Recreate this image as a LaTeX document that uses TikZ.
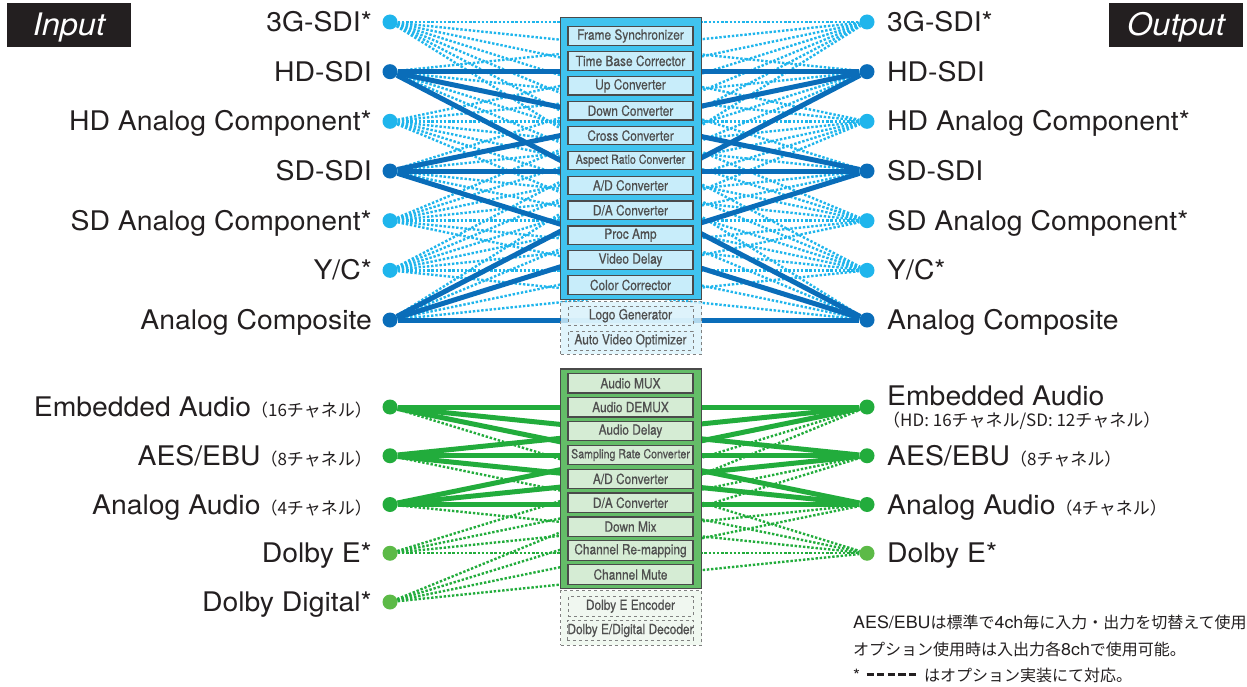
\documentclass[tikz,border=0pt]{standalone}
\usepackage{fontspec}
\setmainfont[FakeStretch=1.05]{TeX Gyre Heros}
\newfontfamily\jpfont{Noto Sans CJK JP}
\newfontfamily\cellfont[FakeStretch=0.85, FakeBold=0.6]{TeX Gyre Heros}
\usetikzlibrary{positioning}

\definecolor{ink}{HTML}{231F20}
\definecolor{vidopt}{HTML}{1FB5EC}
\definecolor{vidstd}{HTML}{0A6DB9}
\definecolor{vidbox}{HTML}{40C3EF}
\definecolor{vidcell}{HTML}{C8EDFA}
\definecolor{audstd}{HTML}{22AC3C}
\definecolor{audopt}{HTML}{5CBA47}
\definecolor{audbox}{HTML}{64BD68}
\definecolor{audcell}{HTML}{D5ECD4}
\definecolor{celltext}{HTML}{4F4F4F}
\definecolor{cellline}{HTML}{4A4A4A}

\newcommand{\chans}[1]{{\jpfont\fontsize{17}{20}\selectfont （#1チャネル）}}
\newcommand{\lat}[1]{{\rmfamily\fontsize{17}{17}\selectfont #1}}
\newcommand{\optdash}{\rule[0.3em]{0.46em}{0.2em}\hspace{0.2em}}

\pgfdeclarelayer{links}
\pgfsetlayers{links,main}

\begin{document}
\begin{tikzpicture}[x=1pt, y=-1pt,
    port/.style={circle, fill=#1, inner sep=0pt, minimum size=15pt},
    portname/.style={inner sep=0pt, text=ink, font=\fontsize{27}{30}\selectfont},
    inname/.style={portname, anchor=base east},
    outname/.style={portname, anchor=base west},
    stdlink/.style={line width=5pt, draw=#1},
    optlink/.style={line width=2.4pt, dash pattern=on 2.4pt off 1.8pt, draw=#1},
    heading/.style={fill=ink, text=white, inner sep=0pt, minimum height=44pt,
      text height=22pt, text depth=0pt, font=\itshape\fontsize{31}{31}\selectfont},
    procbox/.style={draw=cellline, line width=1.2pt, minimum width=141pt},
    optbox/.style={draw=gray, dashed, line width=0.8pt, minimum width=141pt, fill opacity=0.8, text opacity=1},
    cell/.style={draw=cellline, line width=1.2pt, minimum width=125pt, inner sep=0pt,
      text=celltext, font=\cellfont\fontsize{14}{15}\selectfont},
    optcell/.style={cell, draw=gray, dashed, line width=0.8pt, fill opacity=0.8, text opacity=1},
    note/.style={anchor=base west, inner sep=0pt, text=ink, font=\jpfont\fontsize{16}{18}\selectfont}]
\useasboundingbox (0,0) rectangle (1247,687);

% headings
\node[heading, minimum width=124pt] (inhead) at (69,25) {Input};
\node[heading, minimum width=134pt] (outhead) at (1176,25) {Output};

% video ports
\foreach \i/\kind/\txt in {1/vidopt/{3G-SDI*}, 2/vidstd/{HD-SDI}, 3/vidopt/{HD Analog Component*},
    4/vidstd/{SD-SDI}, 5/vidopt/{SD Analog Component*}, 6/vidopt/{Y/C*}, 7/vidstd/{Analog Composite}} {
  \node[port=\kind] (vin\i) at (390,{22+(\i-1)*49.67}) {};
  \node[inname] (vinname\i) at ([xshift=-18pt,yshift=-9.5pt]vin\i.center) {\txt};
  \node[port=\kind] (vout\i) at (867,{22+(\i-1)*49.67}) {};
  \node[outname] (voutname\i) at ([xshift=20pt,yshift=-9.5pt]vout\i.center) {\txt};
}

% audio ports
\foreach \i/\kind/\txt in {1/audstd/{Embedded Audio\chans{16}}, 2/audstd/{AES/EBU\chans{8}},
    3/audstd/{Analog Audio\chans{4}}, 4/audopt/{Dolby E*}, 5/audopt/{Dolby Digital*}} {
  \node[port=\kind] (ain\i) at (390,{407+(\i-1)*48.75}) {};
  \node[inname] (ainname\i) at ([xshift=-18pt,yshift=-9.5pt]ain\i.center) {\txt};
}
\foreach \i/\kind in {1/audstd, 2/audstd, 3/audstd, 4/audopt}
  \node[port=\kind] (aout\i) at (867,{407+(\i-1)*48.75}) {};
\node[outname] (aoutname1) at ([xshift=20pt,yshift=1.3pt]aout1.center) {Embedded Audio};
\node[anchor=base west, inner sep=0pt, text=ink, font=\jpfont\fontsize{17}{20}\selectfont]
  (aoutsub1) at ([xshift=16pt,yshift=-19.3pt]aout1.center) {（HD: 16チャネル/SD: 12チャネル）};
\node[outname] (aoutname2) at ([xshift=20pt,yshift=-9.5pt]aout2.center) {AES/EBU\chans{8}};
\node[outname] (aoutname3) at ([xshift=20pt,yshift=-9.5pt]aout3.center) {Analog Audio\chans{4}};
\node[outname] (aoutname4) at ([xshift=20pt,yshift=-9.5pt]aout4.center) {Dolby E*};

% links
\begin{pgfonlayer}{links}
\foreach \i in {1,3,5,6} \foreach \j in {1,...,7} \draw[optlink=vidopt] (vin\i) -- (vout\j);
\foreach \i in {2,4,7} \foreach \j in {1,3,5,6} \draw[optlink=vidopt] (vin\i) -- (vout\j);
\foreach \i in {2,4,7} \foreach \j in {2,4,7} \draw[stdlink=vidstd] (vin\i) -- (vout\j);
\foreach \i in {4,5} \foreach \j in {1,...,4} \draw[optlink=audstd] (ain\i) -- (aout\j);
\foreach \i in {1,2,3} \draw[optlink=audstd] (ain\i) -- (aout4);
\foreach \i in {1,2,3} \foreach \j in {1,2,3} \draw[stdlink=audstd] (ain\i) -- (aout\j);
\end{pgfonlayer}

% video processing
\node[procbox, fill=vidbox, minimum height=282pt] (vproc) at (631.2,158.3) {};
\foreach \txt [count=\k] in {Frame Synchronizer, Time Base Corrector, Up Converter, Down Converter,
    Cross Converter, {\fontsize{12.5}{13}\selectfont Aspect Ratio Converter}, {A/D Converter},
    {D/A Converter}, Proc Amp, Video Delay, Color Corrector}
  \node[cell, fill=vidcell, minimum height=18.5pt] (vcell\k) at (630.5,{36+(\k-1)*24.9}) {\txt};
\node[optbox, fill=vidcell!70, minimum height=52.3pt] (vopt) at (631.2,327.9) {};
\node[optcell, fill=vidcell!60, minimum height=19pt] (vcell12) at (630.5,315.7) {Logo Generator};
\node[optcell, fill=vidcell!60, minimum height=19pt] (vcell13) at (630.5,340.7) {Auto Video Optimizer};

% audio processing
\node[procbox, fill=audbox, minimum height=219.3pt] (aproc) at (631.2,478.7) {};
\foreach \txt [count=\k] in {Audio MUX, Audio DEMUX, Audio Delay,
    {\fontsize{12.5}{13}\selectfont Sampling Rate Converter}, {A/D Converter}, {D/A Converter},
    Down Mix, Channel Re-mapping, Channel Mute}
  \node[cell, fill=audcell, minimum height=19.5pt] (acell\k) at (630.5,{383.3+(\k-1)*23.9}) {\txt};
\node[optbox, fill=audcell!45, minimum height=54.3pt] (aopt) at (631.2,617.9) {};
\node[optcell, fill=audcell!35, minimum height=19.5pt] (acell10) at (630.5,606.3) {Dolby E Encoder};
\node[optcell, fill=audcell!35, minimum height=19.5pt] (acell11) at (630.5,630.5) {Dolby E/Digital Decoder};

% notes
\node[note] (note1) at (853,628) {\lat{AES/EBU}は標準で\lat{4ch}毎に入力・出力を切替えて使用};
\node[note] (note2) at (853,655) {オプション使用時は入出力各\lat{8ch}で使用可能。};
\node[note] (note3) at (853,681) {\lat{*}\hspace{0.4em}\optdash\optdash\optdash\optdash\optdash\hspace{0.3em}はオプション実装にて対応。};
\end{tikzpicture}
\end{document}
